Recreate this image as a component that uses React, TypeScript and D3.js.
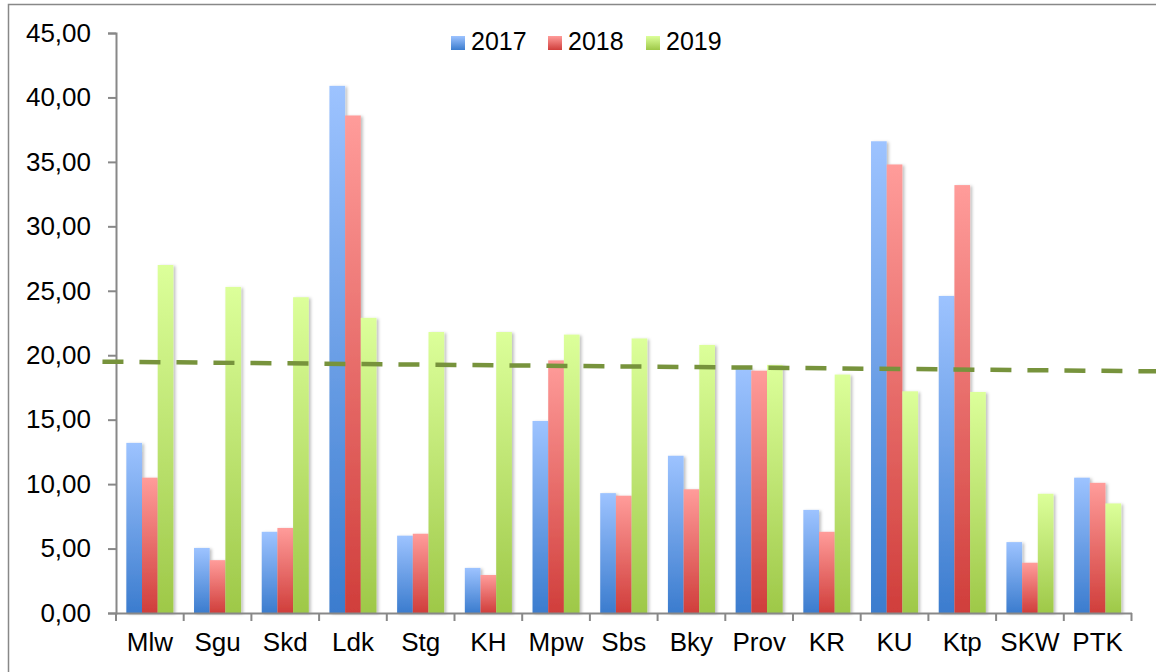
import React, { useEffect, useRef } from "react";
import * as d3 from "d3";

const categories = ["Mlw", "Sgu", "Skd", "Ldk", "Stg", "KH", "Mpw", "Sbs", "Bky", "Prov", "KR", "KU", "Ktp", "SKW", "PTK"];
const seriesNames = ["2017", "2018", "2019"];
const values2017 = [13.2, 5.05, 6.3, 40.9, 6.0, 3.5, 14.9, 9.3, 12.2, 19.0, 8.0, 36.6, 24.6, 5.5, 10.5];
const values2018 = [10.5, 4.1, 6.6, 38.6, 6.15, 2.95, 19.6, 9.1, 9.6, 18.8, 6.3, 34.8, 33.2, 3.9, 10.1];
const values2019 = [27.0, 25.3, 24.5, 22.9, 21.8, 21.8, 21.6, 21.3, 20.8, 19.25, 18.5, 17.2, 17.15, 9.25, 8.5];
const yTicks = [0, 5, 10, 15, 20, 25, 30, 35, 40, 45];
// dashed trend line, positions in category units from the left of the axis
const trendX = [-0.2, 15.4];
const trendY = [19.5, 18.75];

const gradients = [
  { id: "g2017", top: "#9dc3ff", bottom: "#3b7cce" },
  { id: "g2018", top: "#ff9c9a", bottom: "#d03e3b" },
  { id: "g2019", top: "#dcff9a", bottom: "#9ec848" },
];

export default function App() {
  const ref = useRef<SVGSVGElement>(null);

  useEffect(() => {
    const svg = d3.select(ref.current);
    svg.selectAll("*").remove();

    const width = 1156;
    const height = 672;
    const left = 116;
    const right = 1131.5;
    const top = 33;
    const bottom = 613;
    const font = "Liberation Sans, Arial, sans-serif";

    const defs = svg.append("defs");
    gradients.forEach((g) => {
      const lg = defs.append("linearGradient").attr("id", g.id).attr("x1", 0).attr("y1", 0).attr("x2", 0).attr("y2", 1);
      lg.append("stop").attr("offset", "0%").attr("stop-color", g.top);
      lg.append("stop").attr("offset", "100%").attr("stop-color", g.bottom);
    });
    const filter = defs.append("filter").attr("id", "shadow").attr("x", "-20%").attr("y", "-5%").attr("width", "160%").attr("height", "120%");
    filter.append("feDropShadow").attr("dx", 2).attr("dy", 1).attr("stdDeviation", 1.5).attr("flood-color", "#000").attr("flood-opacity", 0.25);

    svg.append("rect").attr("width", width).attr("height", height).attr("fill", "#fff");
    svg.append("rect")
      .attr("x", 8.5).attr("y", 4.5).attr("width", width + 10).attr("height", height + 10)
      .attr("fill", "none").attr("stroke", "#888").attr("stroke-width", 1.5);

    const x = d3.scaleBand().domain(categories).range([left, right]).paddingInner(0).paddingOuter(0);
    const inner = d3.scaleBand().domain(seriesNames).range([0, x.bandwidth() * 0.695]);
    const offset = x.bandwidth() * (1 - 0.695) / 2;
    const y = d3.scaleLinear().domain([0, 45]).range([bottom, top]);

    const allSeries = [values2017, values2018, values2019];
    allSeries.forEach((vals, si) => {
      svg.append("g")
        .attr("filter", "url(#shadow)")
        .selectAll("rect")
        .data(vals)
        .enter()
        .append("rect")
        .attr("x", (_, i) => (x(categories[i]) as number) + offset + (inner(seriesNames[si]) as number))
        .attr("y", (d) => y(d))
        .attr("width", inner.bandwidth())
        .attr("height", (d) => bottom - y(d))
        .attr("fill", `url(#${gradients[si].id})`);
    });

    // y axis
    const yAxis = svg.append("g")
      .attr("transform", `translate(${left},0)`)
      .call(d3.axisLeft(y).tickValues(yTicks).tickSize(8).tickPadding(17).tickFormat((d) => d3.format(".2f")(d as number).replace(".", ",")));
    yAxis.select(".domain").attr("stroke", "#888").attr("stroke-width", 2);
    yAxis.selectAll(".tick line").attr("stroke", "#888").attr("stroke-width", 2);
    yAxis.selectAll(".tick text").attr("font-family", font).attr("font-size", 26).attr("fill", "#000");

    // x axis
    const xAxis = svg.append("g")
      .attr("transform", `translate(0,${bottom})`)
      .call(d3.axisBottom(x).tickSize(0).tickPadding(20));
    xAxis.select(".domain").attr("stroke", "#888").attr("stroke-width", 2);
    xAxis.selectAll(".tick text").attr("font-family", font).attr("font-size", 26).attr("fill", "#000").attr("dy", "0.71em");
    xAxis.selectAll(".sep")
      .data(d3.range(categories.length + 1))
      .enter()
      .append("line")
      .attr("class", "sep")
      .attr("x1", (i) => left + i * x.step())
      .attr("x2", (i) => left + i * x.step())
      .attr("y1", 0)
      .attr("y2", 8)
      .attr("stroke", "#888")
      .attr("stroke-width", 2);

    // trend line
    const tx = d3.scaleLinear().domain([0, categories.length]).range([left, right]);
    const line = d3.line<number>().x((_, i) => tx(trendX[i])).y((d) => y(d));
    svg.append("path")
      .attr("d", line(trendY))
      .attr("fill", "none")
      .attr("stroke", "#77933c")
      .attr("stroke-width", 4.5)
      .attr("stroke-dasharray", "21,16");

    // legend
    const legendX = [451, 548, 646];
    const legend = svg.append("g");
    seriesNames.forEach((name, i) => {
      legend.append("rect")
        .attr("x", legendX[i]).attr("y", 36).attr("width", 14).attr("height", 14)
        .attr("fill", `url(#${gradients[i].id})`);
      legend.append("text")
        .attr("x", legendX[i] + 20).attr("y", 50)
        .attr("font-family", font).attr("font-size", 25).attr("fill", "#000")
        .text(name);
    });
  }, []);

  return (
    <svg ref={ref} width={1156} height={672} style={{ position: "absolute", left: 0, top: 0, display: "block" }} />
  );
}
